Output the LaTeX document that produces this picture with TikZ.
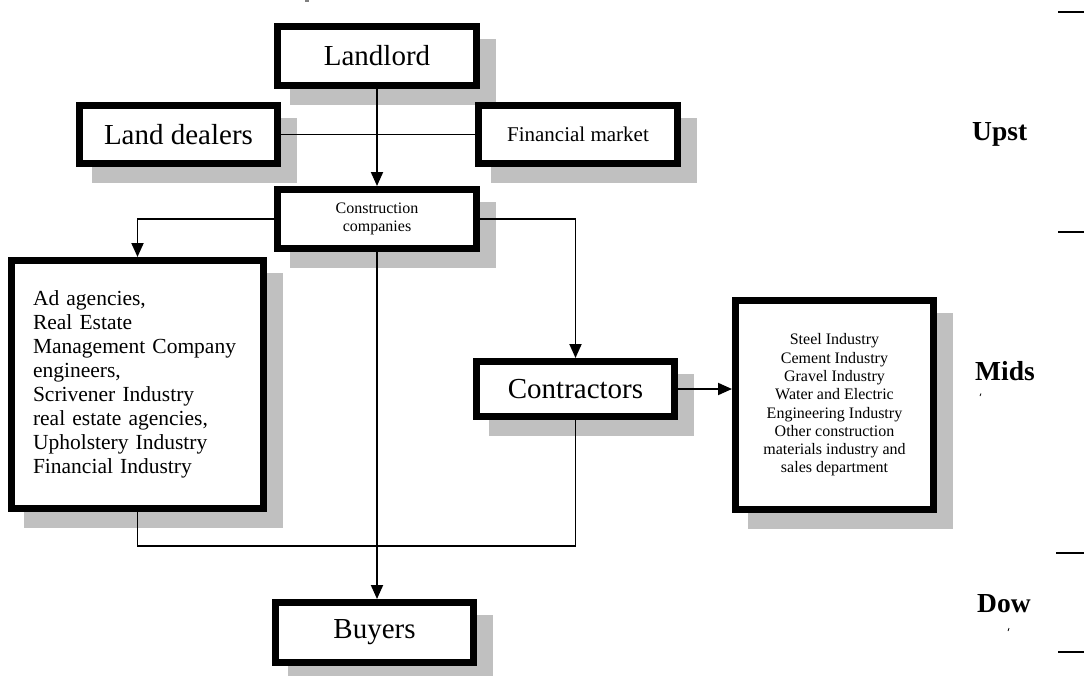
\documentclass[tikz,border=0pt]{standalone}
\usepackage{fontspec}
\setmainfont{Liberation Serif}
\usetikzlibrary{arrows.meta,backgrounds,calc}
\definecolor{shadowgray}{RGB}{192,192,192}
\begin{document}
\begin{tikzpicture}[x=1pt,y=-1pt,
  frame/.style={draw, line width=7pt, fill=white, outer sep=3.5pt, inner sep=0pt, align=center},
  conn/.style={line width=1.9pt},
  arr/.style={conn, -{Triangle[length=14pt,width=12pt]}},
  lab/.style={font=\fontsize{27.5}{30}\selectfont\bfseries, anchor=base west, inner sep=0pt},
  rule/.style={line width=2pt}]
\useasboundingbox (0,0) rectangle (1084,675);

\node[frame, minimum width=199pt, minimum height=59pt, font=\fontsize{29}{32}\selectfont] (landlord) at (377,56) {Landlord};
\node[frame, minimum width=198pt, minimum height=58pt, font=\fontsize{29}{32}\selectfont] (dealers) at (178.5,134.5) {Land dealers};
\node[frame, minimum width=199pt, minimum height=58pt, font=\fontsize{21}{24}\selectfont] (finmarket) at (578,134.5) {Financial market};
\node[frame, minimum width=199pt, minimum height=59pt, font=\fontsize{16}{17.5}\selectfont] (construction) at (377,219) {Construction\\companies};
\node[frame, minimum width=252pt, minimum height=248pt, text width=209pt, align=left, font=\fontsize{21.5}{24}\selectfont] (leftbox) at (137.5,384.5) {Ad agencies,\\Real Estate\\Management Company\\engineers,\\Scrivener Industry\\real estate agencies,\\Upholstery Industry\\Financial Industry};
\node[frame, minimum width=198pt, minimum height=55pt, font=\fontsize{29}{32}\selectfont] (contractors) at (575.5,389) {Contractors};
\node[frame, minimum width=198pt, minimum height=209pt, font=\fontsize{16}{18.3}\selectfont] (steel) at (834.5,405) {Steel Industry\\Cement Industry\\Gravel Industry\\Water and Electric\\Engineering Industry\\Other construction\\materials industry and\\sales department};
\node[frame, minimum width=198pt, minimum height=60pt, font=\fontsize{29}{32}\selectfont] (buyers) at (374.5,632.5) {Buyers};

\begin{scope}[on background layer]
\foreach \n in {landlord,dealers,finmarket,construction,leftbox,contractors,steel,buyers}
  \fill[shadowgray] ($(\n.north west)+(16,16)$) rectangle ($(\n.south east)+(16,16)$);
\end{scope}

\coordinate (busline) at (0,546);
\draw[conn] (dealers.east) -- (finmarket.west);
\draw[arr] (landlord.south) -- (construction.north);
\draw[arr] (construction.west) -| (leftbox.north);
\draw[arr] (construction.east) -| (contractors.north);
\draw[arr] (construction.south) -- (construction.south |- buyers.north);
\draw[arr] (contractors.east) -- (contractors.east -| steel.west);
\draw[conn] (leftbox.south) -- (leftbox.south |- busline) -- (contractors.south |- busline) -- (contractors.south);

\node[lab] (upst) at (972,140) {Upst};
\node[lab] (mids) at (975,380) {Mids};
\node[lab] (dow) at (977,612) {Dow};

\draw[rule] (1058,12) -- (1084,12);
\draw[rule] (1058,232) -- (1084,232);
\draw[rule] (1056,553) -- (1084,553);
\draw[rule] (1058,652) -- (1084,652);

\draw[line width=0.8pt] (981,393.5) -- (980,396);
\draw[line width=0.8pt] (1009,628) -- (1008,631);
\fill[gray] (305,0) rectangle (309,1.5);
\end{tikzpicture}
\end{document}
